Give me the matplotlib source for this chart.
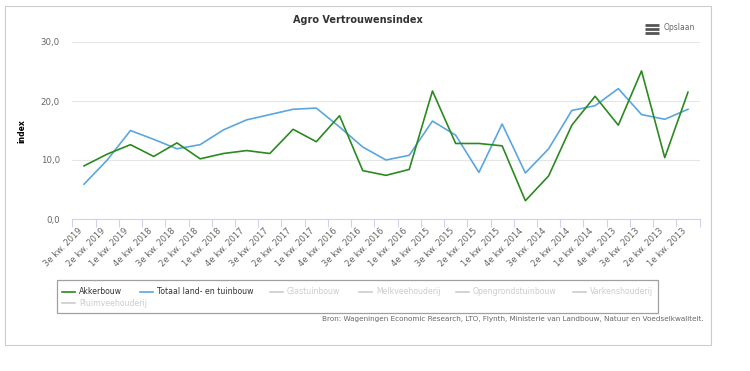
import matplotlib
matplotlib.use("Agg")
import matplotlib.pyplot as plt
from matplotlib.lines import Line2D
from matplotlib.patches import Rectangle

plt.rcParams["font.family"] = ["DejaVu Sans"]

# data
kwartalen = ["3e kw. 2019", "2e kw. 2019", "1e kw. 2019",
             "4e kw. 2018", "3e kw. 2018", "2e kw. 2018", "1e kw. 2018",
             "4e kw. 2017", "3e kw. 2017", "2e kw. 2017", "1e kw. 2017",
             "4e kw. 2016", "3e kw. 2016", "2e kw. 2016", "1e kw. 2016",
             "4e kw. 2015", "3e kw. 2015", "2e kw. 2015", "1e kw. 2015",
             "4e kw. 2014", "3e kw. 2014", "2e kw. 2014", "1e kw. 2014",
             "4e kw. 2013", "3e kw. 2013", "2e kw. 2013", "1e kw. 2013"]
akkerbouw = [9.0, 11.0, 12.6, 10.6, 12.9, 10.2, 11.1, 11.6, 11.1, 15.2,
             13.1, 17.5, 8.2, 7.4, 8.4, 21.7, 12.8, 12.8, 12.4, 3.1,
             7.3, 15.9, 20.8, 15.9, 25.1, 10.4, 21.5]
totaal = [5.9, 10.0, 15.0, 13.5, 11.9, 12.6, 15.1, 16.8, 17.7, 18.6,
          18.8, 15.6, 12.2, 10.0, 10.8, 16.6, 14.2, 7.9, 16.1, 7.8,
          11.9, 18.4, 19.2, 22.1, 17.7, 16.9, 18.6]
y_ticks = [0, 10, 20, 30]
legend_items = ["Akkerbouw", "Totaal land- en tuinbouw", "Glastuinbouw",
                "Melkveehouderij", "Opengrondstuinbouw", "Varkenshouderij",
                "Pluimveehouderij"]
bron = ("Bron: Wageningen Economic Research, LTO, Flynth, Ministerie van "
        "Landbouw, Natuur en Voedselkwaliteit.")

W, H = 750, 371
green = "#2b8a1f"
blue = "#5ba6de"
grey_txt = "#666666"
axis_col = "#ccd6eb"


def fx(x):
    return x / W


def fy(y):
    return 1 - y / H


fig = plt.figure(figsize=(7.5, 3.71), dpi=100)
fig.patch.set_facecolor("white")

# outer frame
fig.add_artist(Rectangle((fx(5), fy(345)), fx(711) - fx(5), fy(6) - fy(345),
                         transform=fig.transFigure, fill=False,
                         edgecolor="#cccccc", linewidth=0.8))

ax = fig.add_axes([fx(72.4), fy(219), fx(699.6) - fx(72.4), fy(42) - fy(219)])
x = list(range(len(kwartalen)))
ax.plot(x, totaal, color=blue, linewidth=1.2, zorder=3)
ax.plot(x, akkerbouw, color=green, linewidth=1.2, zorder=4)

ax.set_xlim(-0.5, len(kwartalen) - 0.5)
ax.set_ylim(0, 30)
ax.set_yticks(y_ticks)
ax.set_yticklabels([f"{v:.1f}".replace(".", ",") for v in y_ticks])
ax.tick_params(axis="y", length=0, pad=9, labelsize=6.2, labelcolor=grey_txt)
ax.grid(axis="y", color="#e6e6e6", linewidth=0.8)
ax.set_axisbelow(True)

ax.set_xticks(x)
ax.set_xticklabels(kwartalen, rotation=45, ha="right", va="top",
                   fontsize=6, color=grey_txt)
ax.tick_params(axis="x", length=0, pad=5)
ax.set_xticks([i - 0.5 for i in range(len(kwartalen) + 1)], minor=True)
ax.tick_params(axis="x", which="minor", length=6, color=axis_col, width=0.8)

for s in ["top", "right", "left"]:
    ax.spines[s].set_visible(False)
ax.spines["bottom"].set_color(axis_col)
ax.spines["bottom"].set_linewidth(0.8)

# title, y label, menu
fig.text(fx(358), fy(20), "Agro Vertrouwensindex", ha="center", va="center",
         fontsize=7, fontweight="bold", color="#333333")
fig.text(fx(22), fy(131), "index", rotation=90, ha="center", va="center",
         fontsize=5.5, fontweight="bold", color="black")
for yy in [24.5, 28.5, 32.5]:
    fig.add_artist(Line2D([fx(645), fx(659)], [fy(yy), fy(yy)],
                          transform=fig.transFigure, color="#555555",
                          linewidth=2.0, solid_capstyle="butt"))
fig.text(fx(664), fy(28), "Opslaan", ha="left", va="center",
         fontsize=5.5, color=grey_txt)

# legend (flow layout like the original)
fig.add_artist(Rectangle((fx(57), fy(313)), fx(658) - fx(57), fy(280) - fy(313),
                         transform=fig.transFigure, fill=False,
                         edgecolor="#a0a0a0", linewidth=0.9))
leg_pos = [(62, 291.5), (140, 291.5), (270, 291.5), (359, 291.5),
           (456, 291.5), (573, 291.5), (62, 303)]
leg_cols = [green, blue] + ["#cccccc"] * 5
txt_cols = ["#333333", "#333333"] + ["#cccccc"] * 5
for name, (lx, ly), lc, tc in zip(legend_items, leg_pos, leg_cols, txt_cols):
    fig.add_artist(Line2D([fx(lx), fx(lx + 13)], [fy(ly), fy(ly)],
                          transform=fig.transFigure, color=lc, linewidth=1.2))
    fig.text(fx(lx + 17), fy(ly), name, ha="left", va="center",
             fontsize=5.6, color=tc)

fig.text(fx(704), fy(319), bron, ha="right", va="center",
         fontsize=5.2, color=grey_txt)

fig.savefig("out.png", dpi=100, facecolor="white")
